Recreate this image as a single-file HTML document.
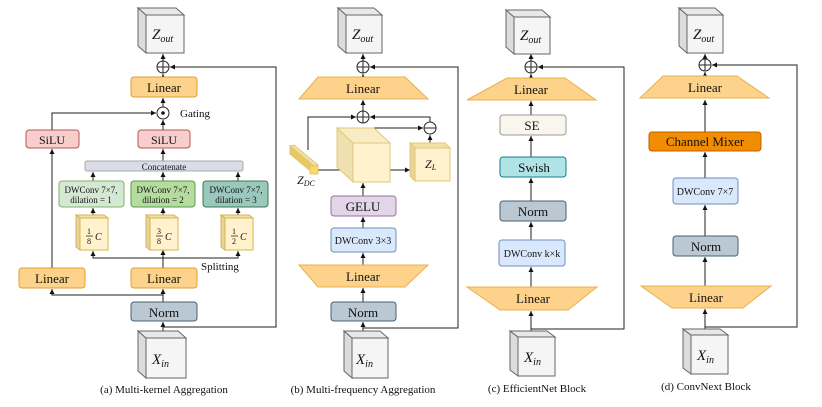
<!DOCTYPE html>
<html><head><meta charset="utf-8"><style>
html,body{margin:0;padding:0;background:#fff}
svg{display:block}
text{font-family:"Liberation Serif",serif;fill:#111}
</style></head><body>
<svg width="822" height="407" viewBox="0 0 822 407" xmlns="http://www.w3.org/2000/svg">
<defs>
<marker id="ar" markerWidth="6" markerHeight="6" refX="5" refY="3" orient="auto" markerUnits="userSpaceOnUse">
<path d="M0,0.5 L5,3 L0,5.5 Z" fill="#111"/></marker>
</defs>
<g stroke="#222" stroke-width="1" fill="none" marker-end="url(#ar)">
<!-- (a) -->
<path d="M163,302 V289"/>
<path d="M163,295 H52 V289"/>
<path d="M163,268 V250"/>
<path d="M163,258 H93 V251"/>
<path d="M163,258 H238 V251"/>
<path d="M93,217 V208"/><path d="M163,217 V208"/><path d="M238,217 V208"/>
<path d="M93,181 V172"/><path d="M163,181 V172"/><path d="M238,181 V172"/>
<path d="M163,161 V149"/>
<path d="M52,268 V149"/>
<path d="M52,130 V113 H156"/>
<path d="M163,130 V120"/>
<path d="M163,107 V98"/>
<path d="M163,77 V74"/>
<path d="M163,61 V54"/>
<path d="M163,336 V322"/>
<path d="M163,327 H276 V67 H170"/>
<!-- (b) -->
<path d="M363,337 V322"/>
<path d="M363,328 H458 V67 H370"/>
<path d="M363,302 V288"/>
<path d="M363,265 V253"/>
<path d="M363,228 V217"/>
<path d="M363,196 V183"/>
<path d="M345,170 H313"/>
<path d="M390,170 H410"/>
<path d="M370,138 V128 H423"/>
<path d="M430,143 V135"/>
<path d="M308,150 V117 H356"/>
<path d="M430,122 V117 H370"/>
<path d="M363,111 V100"/>
<path d="M363,77 V74"/>
<path d="M363,61 V54"/>
<!-- (c) -->
<path d="M531,335 V311"/>
<path d="M531,329 H624 V67 H538"/>
<path d="M531,287 V267"/>
<path d="M531,240 V222"/>
<path d="M531,201 V178"/>
<path d="M531,157 V136"/>
<path d="M531,115 V101"/>
<path d="M531,78 V74"/>
<path d="M531,61 V54"/>
<!-- (d) -->
<path d="M705,333 V309"/>
<path d="M705,327 H797 V65 H712"/>
<path d="M705,286 V257"/>
<path d="M705,236 V205"/>
<path d="M705,178 V152"/>
<path d="M705,132 V100"/>
<path d="M705,76 V72"/>
<path d="M705,59 V54"/>
</g>
<!-- circles -->
<g stroke="#222" fill="#fff" stroke-width="1">
<circle cx="163" cy="67" r="6"/><path d="M157,67 H169 M163,61 V73"/>
<circle cx="163" cy="113" r="6"/>
<circle cx="363" cy="67" r="6"/><path d="M357,67 H369 M363,61 V73"/>
<circle cx="363" cy="117" r="6"/><path d="M357,117 H369 M363,111 V123"/>
<circle cx="430" cy="128" r="6"/><path d="M424,128 H436"/>
<circle cx="531" cy="67" r="6"/><path d="M525,67 H537 M531,61 V73"/>
<circle cx="705" cy="65" r="6"/><path d="M699,65 H711 M705,59 V71"/>
</g>
<circle cx="163" cy="113" r="1.8" fill="#111"/>
<text x="180" y="117" font-size="11">Gating</text>

<!-- grey cubes: Zout / Xin -->
<g stroke="#666" stroke-width="1">
<path d="M138,8 L146,15 V53 L138,46 Z" fill="#dcdcdc"/><path d="M138,8 H176 L184,15 H146 Z" fill="#e8e8e8"/><rect x="146" y="15" width="38" height="38" fill="#f5f5f5"/>
<path d="M338,8 L346,15 V53 L338,46 Z" fill="#dcdcdc"/><path d="M338,8 H374 L382,15 H346 Z" fill="#e8e8e8"/><rect x="346" y="15" width="36" height="38" fill="#f5f5f5"/>
<path d="M506,10 L514,17 V54 L506,47 Z" fill="#dcdcdc"/><path d="M506,10 H542 L550,17 H514 Z" fill="#e8e8e8"/><rect x="514" y="17" width="36" height="37" fill="#f5f5f5"/>
<path d="M679,8 L687,15 V53 L679,46 Z" fill="#dcdcdc"/><path d="M679,8 H715 L723,15 H687 Z" fill="#e8e8e8"/><rect x="687" y="15" width="36" height="38" fill="#f5f5f5"/>
<path d="M138,331 L146,338 V378 L138,371 Z" fill="#dcdcdc"/><path d="M138,331 H178 L186,338 H146 Z" fill="#e8e8e8"/><rect x="146" y="338" width="40" height="40" fill="#f5f5f5"/>
<path d="M344,331 L352,338 V378 L344,371 Z" fill="#dcdcdc"/><path d="M344,331 H380 L388,338 H352 Z" fill="#e8e8e8"/><rect x="352" y="338" width="36" height="40" fill="#f5f5f5"/>
<path d="M510,331 L518,337 V376 L510,370 Z" fill="#dcdcdc"/><path d="M510,331 H547 L555,337 H518 Z" fill="#e8e8e8"/><rect x="518" y="337" width="37" height="39" fill="#f5f5f5"/>
<path d="M683,329 L691,335 V374 L683,368 Z" fill="#dcdcdc"/><path d="M683,329 H720 L728,335 H691 Z" fill="#e8e8e8"/><rect x="691" y="335" width="37" height="39" fill="#f5f5f5"/>
</g>
<g font-style="italic" font-size="15">
<text x="152" y="39">Z<tspan font-size="10" dy="3">out</tspan></text>
<text x="352" y="39">Z<tspan font-size="10" dy="3">out</tspan></text>
<text x="520" y="40">Z<tspan font-size="10" dy="3">out</tspan></text>
<text x="693" y="39">Z<tspan font-size="10" dy="3">out</tspan></text>
<text x="152" y="364">X<tspan font-size="10" dy="3">in</tspan></text>
<text x="356" y="364">X<tspan font-size="10" dy="3">in</tspan></text>
<text x="524" y="362">X<tspan font-size="10" dy="3">in</tspan></text>
<text x="697" y="360">X<tspan font-size="10" dy="3">in</tspan></text>
</g>

<!-- (a) boxes -->
<g stroke-width="1">
<rect x="131" y="77" width="66" height="20" rx="3" fill="#fdd28a" stroke="#e0a030"/>
<rect x="26" y="130" width="53" height="18" rx="3" fill="#f8cecc" stroke="#b85450"/>
<rect x="138" y="130" width="52" height="18" rx="3" fill="#f8cecc" stroke="#b85450"/>
<rect x="85" y="161" width="158" height="10" rx="2" fill="#dadce8" stroke="#aaa"/>
<rect x="59" y="181" width="65" height="26" rx="3" fill="#d5e8d4" stroke="#82b366"/>
<rect x="131" y="181" width="64" height="26" rx="3" fill="#b5dc9f" stroke="#5a9a48"/>
<rect x="203" y="181" width="65" height="26" rx="3" fill="#9ac8bc" stroke="#3a7a50"/>
<rect x="19" y="268" width="66" height="20" rx="3" fill="#fdd28a" stroke="#e0a030"/>
<rect x="131" y="268" width="66" height="20" rx="3" fill="#fdd28a" stroke="#e0a030"/>
<rect x="131" y="302" width="66" height="19" rx="3" fill="#bac8d3" stroke="#4a6070"/>
</g>
<g fill="#fff2cc" stroke="#d6b656">
<path d="M76,215 L80,218 V250 L76,247 Z" fill="#e8d39a"/><path d="M76,215 H104 L108,218 H80 Z" fill="#f3e0a8"/><rect x="80" y="218" width="28" height="32"/>
<path d="M146,215 L150,218 V250 L146,247 Z" fill="#e8d39a"/><path d="M146,215 H174 L178,218 H150 Z" fill="#f3e0a8"/><rect x="150" y="218" width="28" height="32"/>
<path d="M221,215 L225,218 V250 L221,247 Z" fill="#e8d39a"/><path d="M221,215 H249 L253,218 H225 Z" fill="#f3e0a8"/><rect x="225" y="218" width="28" height="32"/>
</g>
<g font-size="12" text-anchor="middle">
<text x="164" y="92" font-size="13">Linear</text>
<text x="52" y="144">SiLU</text>
<text x="164" y="144">SiLU</text>
<text x="164" y="170" font-size="9" font-family="Liberation Sans" fill="#333">Concatenate</text>
<text x="91" y="193" font-size="9">DWConv 7×7,</text><text x="91" y="203" font-size="9">dilation = 1</text>
<text x="163" y="193" font-size="9">DWConv 7×7,</text><text x="163" y="203" font-size="9">dilation = 2</text>
<text x="236" y="193" font-size="9">DWConv 7×7,</text><text x="236" y="203" font-size="9">dilation = 3</text>
<text x="52" y="283" font-size="13">Linear</text>
<text x="164" y="283" font-size="13">Linear</text>
<text x="164" y="317" font-size="13">Norm</text>
<text x="164" y="393" font-size="11">(a) Multi-kernel Aggregation</text>
</g>
<g font-size="8">
<text x="87" y="234">1</text><path d="M86,236 H93" stroke="#111" stroke-width="0.7"/><text x="87" y="244">8</text><text x="95" y="240" font-style="italic" font-size="10">C</text>
<text x="157" y="234">3</text><path d="M156,236 H163" stroke="#111" stroke-width="0.7"/><text x="157" y="244">8</text><text x="165" y="240" font-style="italic" font-size="10">C</text>
<text x="232" y="234">1</text><path d="M231,236 H238" stroke="#111" stroke-width="0.7"/><text x="232" y="244">2</text><text x="240" y="240" font-style="italic" font-size="10">C</text>
</g>
<text x="201" y="270" font-size="11">Splitting</text>

<!-- (b) -->
<path d="M318,77 H405 L428,99 H299 Z" fill="#fdd28a" stroke="#e8b050"/>
<path d="M299,265 H428 L405,287 H318 Z" fill="#fdd28a" stroke="#e8b050"/>
<rect x="331" y="196" width="65" height="20" rx="3" fill="#e1d5e7" stroke="#9673a6"/>
<rect x="331" y="228" width="65" height="24" rx="3" fill="#dae8fc" stroke="#6c8ebf"/>
<rect x="331" y="302" width="65" height="19" rx="3" fill="#bac8d3" stroke="#4a6070"/>
<g stroke="#e0c878">
<path d="M337,128 L353,143 V182 L337,167 Z" fill="#f0e0b0"/><path d="M337,128 H374 L390,143 H353 Z" fill="#f7ecc4"/><rect x="353" y="143" width="37" height="39" fill="#fff2cc"/>
<path d="M410,143 L415,148 V181 L410,176 Z" fill="#e8d39a"/><path d="M410,143 H445 L450,148 H415 Z" fill="#f3e0a8"/><rect x="415" y="148" width="35" height="33" fill="#fff2cc"/>
<path d="M290,146 L294,145 L318,165 L314,166 Z" fill="#f3e0a8"/><path d="M290,146 L314,166 V174 L290,154 Z" fill="#e8c860"/><rect x="310" y="166" width="8" height="8" fill="#ffd966"/>
</g>
<g text-anchor="middle" font-size="13">
<text x="363" y="93">Linear</text>
<text x="363" y="211">GELU</text>
<text x="363" y="244" font-size="10">DWConv 3×3</text>
<text x="363" y="281">Linear</text>
<text x="363" y="317">Norm</text>
<text x="363" y="393" font-size="11">(b) Multi-frequency Aggregation</text>
</g>
<text x="425" y="168" font-size="12" font-style="italic">Z<tspan font-size="8" dy="2">L</tspan></text>
<text x="297" y="184" font-size="12" font-style="italic">Z<tspan font-size="8" dy="2">DC</tspan></text>

<!-- (c) -->
<path d="M507,78 H565 L596,100 H467 Z" fill="#fdd28a" stroke="#e8b050"/>
<path d="M467,287 H597 L568,310 H500 Z" fill="#fdd28a" stroke="#e8b050"/>
<rect x="500" y="115" width="66" height="20" rx="3" fill="#f9f7ed" stroke="#999"/>
<rect x="500" y="157" width="66" height="20" rx="3" fill="#b0e3e6" stroke="#0e8088"/>
<rect x="500" y="201" width="66" height="20" rx="3" fill="#bac8d3" stroke="#4a6070"/>
<rect x="499" y="240" width="66" height="26" rx="3" fill="#dae8fc" stroke="#6c8ebf"/>
<g text-anchor="middle" font-size="13">
<text x="531" y="94">Linear</text>
<text x="532" y="130">SE</text>
<text x="534" y="172">Swish</text>
<text x="533" y="216">Norm</text>
<text x="532" y="257" font-size="10">DWConv k×k</text>
<text x="533" y="303">Linear</text>
<text x="537" y="392" font-size="11">(c) EfficientNet Block</text>
</g>

<!-- (d) -->
<path d="M663,76 H737 L769,98 H640 Z" fill="#fdd28a" stroke="#e8b050"/>
<path d="M641,286 H771 L743,308 H672 Z" fill="#fdd28a" stroke="#e8b050"/>
<rect x="649" y="132" width="112" height="19" rx="3" fill="#f28c00" stroke="#c06000"/>
<rect x="673" y="178" width="65" height="26" rx="3" fill="#dae8fc" stroke="#6c8ebf"/>
<rect x="673" y="236" width="65" height="20" rx="3" fill="#bac8d3" stroke="#4a6070"/>
<g text-anchor="middle" font-size="13">
<text x="705" y="92">Linear</text>
<text x="705" y="146">Channel Mixer</text>
<text x="705" y="195" font-size="10">DWConv 7×7</text>
<text x="706" y="251">Norm</text>
<text x="706" y="302">Linear</text>
<text x="706" y="390" font-size="11">(d) ConvNext Block</text>
</g>
</svg>
</body></html>
